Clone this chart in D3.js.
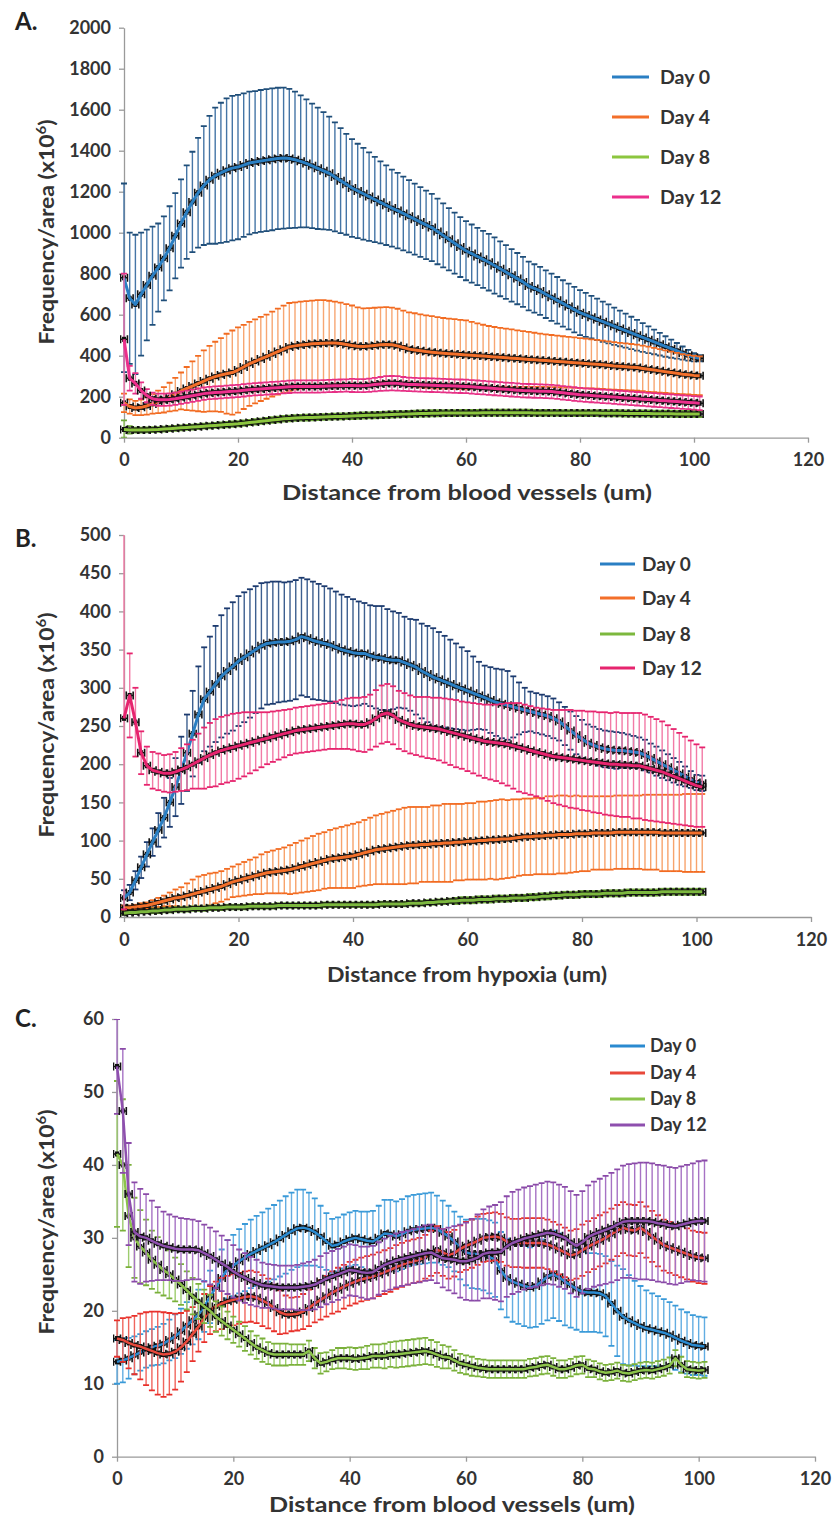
<!DOCTYPE html>
<html><head><meta charset="utf-8">
<script src="https://cdn.jsdelivr.net/npm/d3@7"></script>
<style>
body{margin:0;background:#fff;}
svg{display:block;font-family:Lato,"Open Sans",sans-serif;}
.tick text{font-size:18px;font-weight:bold;fill:#333;}
</style></head>
<body><svg id="c" width="833" height="1526"></svg>
<script>
// ---------- shared x (distance, um) ----------
const X = [0,1,2,3,4,5,6,7,8,9,10,11,12,13,14,15,16,17,18,19,20,21,22,23,24,25,26,27,28,29,30,31,32,33,34,35,36,37,38,39,40,41,42,43,44,45,46,47,48,49,50,51,52,53,54,55,56,57,58,59,60,61,62,63,64,65,66,67,68,69,70,71,72,73,74,75,76,77,78,79,80,81,82,83,84,85,86,87,88,89,90,91,92,93,94,95,96,97,98,99,100,101];
const xTicks = [0,20,40,60,80,100,120];
const seriesNames = ["Day 0","Day 4","Day 8","Day 12"];

// ---------- Panel A ----------
const A_D0 = [780,680,650,700,745,790,830,875,924,985, 1045,1100,1150,1195,1230,1258,1278,1292,1305,1315, 1320,1330,1340,1345,1350,1354,1358,1362,1364,1362, 1356,1348,1338,1326,1314,1302,1290,1272,1254,1236, 1218,1204,1190,1176,1162,1148,1134,1120,1108,1094, 1080,1066,1052,1038,1025,1006,987,968,949,930, 912,898,884,870,856,840,824,808,792,776, 760,740,728,716,700,685,670,655,640,625, 610,599,588,577,566,555,544,533,522,511, 500,489,478,467,456,445,434,424,413,402, 392,388];
const A_D0_E = [460,320,340,300,270,240,215,205,205,208, 215,228,245,268,290,312,332,342,350,352, 352,350,348,346,346,346,346,345,344,340, 332,322,312,304,296,286,276,266,256,246, 238,230,224,216,208,200,194,188,184,180, 176,173,170,167,164,160,156,152,149,146, 144,142,140,139,138,137,134,131,128,125, 122,119,118,117,116,115,114,113,112,111, 110,107,104,101,98,95,91,87,83,79, 75,70,65,60,55,50,44,38,32,26, 20,15];
const A_D4 = [170,152,145,148,155,165,175,185,198,212, 228,240,252,264,276,288,298,306,312,318, 330,345,360,372,384,395,408,420,432,443, 448,452,455,458,460,461,462,462,460,455, 450,446,445,447,450,453,455,453,448,440, 432,428,424,420,417,414,412,410,408,406, 404,402,400,398,396,394,392,390,388,386, 384,382,380,378,376,374,372,370,368,366, 364,362,360,358,356,353,350,348,346,344, 342,338,334,330,326,322,318,314,310,307, 304,302];
const A_D4_E = [45,35,35,38,42,48,55,62,70,80, 90,105,120,135,150,160,170,180,195,205, 208,205,205,205,205,205,207,210,212,214, 212,212,211,211,211,210,206,202,199,197, 195,190,186,185,184,183,182,182,181,180, 179,179,178,177,176,174,172,171,170,169, 168,163,158,153,149,146,144,142,140,138, 136,134,132,130,128,127,126,125,124,123, 122,121,120,119,118,117,116,115,114,113, 112,111,110,108,106,104,102,100,98,96, 95,95];
const A_D8 = [40,38,37,37,38,39,40,42,44,46, 48,50,52,54,56,58,60,62,64,66, 68,71,74,77,80,83,86,89,92,94, 96,97,98,99,100,101,102,103,104,105, 106,107,108,109,110,111,112,113,114,115, 116,117,118,118,119,119,120,120,120,121, 121,121,121,122,122,122,122,122,122,122, 122,122,121,121,121,121,121,120,120,120, 120,120,120,120,119,119,119,119,118,118, 118,118,118,117,117,117,117,116,116,116, 116,116];
const A_D8_E = [45,18,12,12,12,12,12,12,12,12, 12,12,12,12,12,12,12,13,13,13, 13,13,13,13,13,13,14,14,14,14, 14,14,14,14,14,14,14,14,14,14, 15,15,15,15,15,15,15,15,15,15, 15,15,15,15,15,15,15,15,15,15, 15,15,15,15,15,15,15,15,15,15, 15,15,15,15,15,15,15,15,15,15, 15,15,15,15,15,15,15,15,15,15, 15,15,15,15,15,15,15,15,15,15, 15,15];
const A_D12 = [480,290,265,230,205,190,185,185,186,190, 195,200,205,210,215,218,220,222,224,226, 228,231,234,236,238,240,242,244,246,248, 250,250,250,250,250,251,252,253,254,255, 255,254,254,256,259,262,265,266,265,262, 260,259,258,257,256,255,254,253,252,251, 250,248,246,244,242,240,238,236,234,232, 230,229,228,227,226,225,222,219,216,213, 210,208,206,204,202,200,198,196,194,192, 190,188,186,184,182,180,178,176,174,172, 170,168];
const A_D12_E = [320,60,50,40,32,30,30,30,30,30, 30,30,30,30,30,30,30,30,30,30, 30,30,30,30,30,30,30,30,30,30, 30,30,30,30,30,30,30,30,30,30, 32,32,32,32,33,34,35,35,35,34, 33,33,33,33,33,33,33,33,33,33, 33,33,33,33,33,33,33,33,33,33, 33,33,33,33,33,33,33,33,33,33, 33,33,33,33,33,33,33,33,33,33, 33,33,33,33,33,33,33,33,33,33, 33,33];
const A_yTicks = [0,200,400,600,800,1000,1200,1400,1600,1800,2000];

// ---------- Panel B ----------
const B_D0 = [25,32,48,65,82,98,114,130,150,170, 192,215,240,265,285,295,305,315,322,328, 335,340,345,350,355,358,359,360,360,361, 363,367,365,362,360,358,356,353,350,348, 346,345,345,342,340,339,337,336,336,333, 330,327,322,318,314,311,308,305,302,299, 296,293,290,287,284,281,279,277,275,273, 271,269,267,265,263,260,256,250,244,238, 233,228,225,222,220,219,218,218,217,216, 215,212,208,204,200,196,192,188,184,180, 176,175];
const B_D0_E = [10,10,12,14,16,18,22,26,32,38, 44,50,56,63,68,72,76,80,82,84, 85,85,84,83,82,80,80,79,78,78, 78,77,77,77,76,75,74,73,72,71, 70,68,66,66,67,68,66,64,62,60, 60,62,62,63,64,62,60,58,56,54, 52,48,44,42,43,44,45,45,40,34, 29,26,26,26,26,26,25,25,25,25, 25,24,24,24,24,24,24,23,22,21, 20,20,19,19,18,17,16,15,13,11, 10,10];
const B_D4 = [12,12,13,14,15,17,19,21,23,25, 26,28,30,32,34,36,38,40,43,46, 48,50,52,54,56,58,59,60,61,62, 64,66,68,70,72,74,76,77,78,79, 80,82,84,86,88,89,90,91,92,93, 94,94,95,95,96,96,97,97,98,98, 99,99,100,100,101,101,102,102,103,104, 105,105,106,106,107,107,108,108,108,109, 109,109,110,110,110,110,111,111,111,111, 111,111,111,111,110,110,110,110,110,110, 110,110];
const B_D4_E = [3,3,3,4,4,5,6,7,9,11, 13,16,19,21,21,21,20,20,20,20, 21,22,23,24,26,27,28,29,30,32, 33,34,35,36,37,37,38,39,40,41, 42,42,43,44,45,46,47,48,49,50, 50,50,49,49,50,50,51,51,50,50, 50,50,51,51,51,52,52,51,51,50, 50,50,50,50,51,51,51,51,50,50, 49,49,48,48,48,48,48,48,48,48, 48,49,49,49,50,50,50,50,51,51, 51,51];
const B_D8 = [5,6,6,7,7,8,8,9,9,10, 10,10,11,11,11,12,12,12,13,13, 13,13,14,14,14,14,14,15,15,15, 15,15,15,15,15,16,16,16,16,16, 16,16,16,16,16,17,17,17,17,17, 18,18,18,19,19,20,20,21,21,22, 22,22,23,23,23,24,24,24,25,25, 25,26,26,27,27,28,28,29,29,29, 30,30,30,30,31,31,31,31,32,32, 32,32,32,32,33,33,33,33,33,33, 33,33];
const B_D8_E = [2,2,2,2,2,3,3,3,3,3, 3,3,3,3,3,3,3,3,3,3, 3,3,3,3,3,3,3,3,3,3, 3,3,3,3,3,3,3,3,3,3, 3,3,3,3,3,3,3,3,3,3, 3,3,3,3,3,3,3,3,4,4, 4,4,4,4,4,4,4,4,4,4, 4,4,4,4,4,4,4,4,4,4, 4,4,4,4,4,4,4,4,4,4, 4,4,4,4,4,4,4,4,4,4, 4,4];
const B_D12 = [260,290,255,215,198,192,190,188,188,190, 193,196,200,204,208,212,215,218,220,222, 224,226,228,230,232,234,236,238,240,242, 244,245,246,247,248,249,250,251,252,253, 253,252,252,255,260,265,267,264,258,255, 252,250,249,248,247,246,244,242,240,238, 236,234,232,230,229,228,227,226,224,222, 220,218,216,214,212,210,209,208,207,206, 205,204,203,202,201,200,200,199,199,198, 198,196,194,192,190,187,184,181,178,175, 172,170];
const B_D12_E = [250,55,45,28,25,24,24,24,25,26, 28,30,32,36,40,42,44,44,44,44, 43,42,40,38,36,34,33,32,31,30, 30,30,30,30,30,30,30,31,32,33, 34,35,36,36,37,38,38,38,38,38, 38,38,39,40,40,41,42,43,44,44, 45,46,47,48,49,50,52,54,56,58, 58,58,58,59,60,61,62,63,64,64, 65,65,66,66,67,67,68,68,68,69, 69,69,68,67,66,64,62,60,58,56, 54,52];
const B_yTicks = [0,50,100,150,200,250,300,350,400,450,500];

// ---------- Panel C ----------
const C_D0 = [13,13.2,13.5,13.9,14.3,14.7,15,15.2,15.5,16, 16.5,17.2,18,18.7,19.5,20.6,21.9,23.2,24.5,25.7, 26.2,26.8,27.3,27.8,28.2,28.6,29,29.4,29.9,30.4, 30.9,31.3,31.4,31.2,30.8,30.2,29.5,28.9,29.1,29.5, 29.8,30,29.8,29.6,29.5,30,30.6,30.5,30.2,30.5, 30.9,31.1,31.2,31.3,31.4,31.2,30.7,30.2,29.5,28.6, 28,27.8,27.8,27.7,27.4,27,25.5,24.5,24,23.7, 23.4,23.2,23.4,24,24.7,25,24.6,24,23.5,23, 22.6,22.5,22.5,22.4,22,21,20,19.2,18.7,18.3, 17.9,17.6,17.4,17.2,17,16.7,16.3,15.9,15.6,15.3, 15.2,15.1];
const C_D0_E = [3,3,2.8,2.6,2.5,2.5,2.5,2.6,2.7,2.8, 3,3.1,3.2,3.3,3.4,3.5,3.6,3.8,3.9,4, 4.2,4.4,4.6,4.7,4.8,4.9,5,5.1,5.2,5.3, 5.3,5.3,5.2,5,4.6,4.2,3.9,3.7,3.7,3.7, 3.7,3.7,3.8,4,4.2,4.4,4.6,4.7,4.8,4.8, 4.8,4.8,4.8,4.8,4.8,4.6,4.4,4.2,4.1,4.3, 4.5,4.7,4.8,4.9,5,5.1,5.3,5.4,5.5,5.5, 5.5,5.5,5.6,5.8,6,6,6,6,5.8,5.6, 5.5,5.4,5.4,5.4,5.5,5.8,6.2,6.5,6.2,5.8, 5.5,5.2,5,4.8,4.6,4.5,4.4,4.3,4.2,4.1, 4,4];
const C_D4 = [16.2,16,15.6,15.3,15.1,14.8,14.5,14.2,14,14.1, 14.4,15,15.8,16.8,17.8,19,20.1,20.6,21,21.3, 21.5,21.7,21.9,22,21.8,21.4,21,20.4,19.8,19.5, 19.5,19.6,19.9,20.4,21,21.5,22,22.5,22.9,23.3, 23.7,24,24.3,24.5,24.7,25,25.3,25.6,26,26.3, 26.6,26.8,27,27.4,27.9,28.4,28,27.6,27.9,28.5, 28.9,29.2,29.6,30,30.1,30.2,30,29.5,29.3,29.3, 29.3,29.3,29.3,29.3,29.1,28.8,28.4,28,27.6,27.8, 28.3,28.8,29.2,29.6,30,30.5,31,31.4,31.1,31, 31.4,30.8,30.2,29.6,29,28.7,28.4,28.1,27.8,27.5, 27.3,27.2];
const C_D4_E = [2.5,3,3.5,4,4.5,5,5.4,5.7,5.8,5.6, 5.2,4.7,4.2,3.7,3.4,3.3,3.3,3.4,3.5,3.5, 3.5,3.5,3.5,3.5,3.5,3.5,3.4,3.2,3,2.6, 2.3,2.3,2.4,2.5,2.6,2.7,2.8,2.9,3,3, 3,3,3,3,3,3,3,3,3,3, 3,3,3,3,3.1,3.2,3.2,3.2,3.2,3.2, 3.3,3.3,3.3,3.3,3.3,3.3,3.3,3.3,3.3,3.3, 3.4,3.4,3.4,3.4,3.4,3.4,3.4,3.4,3.4,3.4, 3.5,3.5,3.5,3.5,3.5,3.5,3.5,3.5,3.5,3.5, 3.5,3.5,3.5,3.5,3.5,3.5,3.5,3.5,3.5,3.5, 3.5,3.5];
const C_D8 = [41.5,40,33,30,28.8,28,27,26.3,25.6,25, 24.3,23.6,22.8,22,21.3,20.6,20,19.2,18.6,18, 17.4,16.8,16.2,15.6,15,14.6,14.2,14,14,14, 14,14,14,14.5,13.5,12.8,13,13.3,13.5,13.5, 13.5,13.4,13.5,13.6,13.8,13.8,13.8,14,14,14.1, 14.2,14.3,14.4,14.5,14.3,14,13.7,13.6,13.2,12.8, 12.6,12.4,12.2,12.1,12,12,12,12,12,12, 12,12.2,12.3,12.5,12.6,12.3,12,12,12.2,12.5, 12.6,12.1,12,11.7,11.5,11.6,11.8,11.5,11.4,11.6, 11.8,11.9,11.8,12,12.2,12.5,13.5,12.6,12,11.9, 11.8,11.9];
const C_D8_E = [10,9,7,5.5,5,4.5,4,3.8,3.5,3.3, 3,2.8,2.6,2.5,2.4,2.3,2.2,2.1,2,1.9, 1.8,1.7,1.7,1.6,1.6,1.6,1.5,1.5,1.5,1.5, 1.4,1.4,1.4,1.4,1.4,1.4,1.3,1.3,1.4,1.4, 1.5,1.5,1.5,1.6,1.6,1.6,1.7,1.7,1.8,1.8, 1.8,1.8,1.8,1.8,1.7,1.7,1.6,1.5,1.4,1.3, 1.3,1.3,1.2,1.2,1.2,1.2,1.2,1.2,1.2,1.2, 1.2,1.2,1.2,1.2,1.2,1.2,1.2,1.2,1.2,1.2, 1.2,1.2,1.1,1.1,1.1,1.1,1.1,1.1,1.1,1.1, 1.1,1.1,1.1,1.1,1.1,1.1,1.1,1.1,1.1,1.1, 1.1,1.1];
const C_D12 = [53.5,47.4,36,30.8,30.2,30,29.6,29.2,28.9,28.7, 28.5,28.4,28.4,28.4,28.3,27.9,27.5,27,26.5,26, 25.4,24.9,24.5,24.1,23.8,23.5,23.4,23.3,23.2,23.2, 23.2,23.2,23.3,23.4,23.6,24,24.4,24.7,25,25.3, 25.6,25.5,25.3,25.2,25.3,25.8,26.3,26.6,26.9,27.1, 27.3,27.5,27.7,27.9,28,27.6,27.2,27.1,27,26.8, 26.8,27,27.3,27.8,28,28,28.1,28.8,29.3,29.6, 29.9,30.1,30.3,30.5,30.7,30.6,30.3,30,29.4,28.9, 29.4,30.1,30.5,30.8,31.1,31.4,31.8,32.2,32.3,32.3, 32.3,32.3,32.2,32,31.9,31.7,31.6,31.8,32,32.2, 32.3,32.3];
const C_D12_E = [6.5,8.5,7,6.8,6.5,6,5.5,5,4.7,4.5, 4.4,4.3,4.2,4.1,4,3.9,3.9,3.9,3.8,3.7, 3.6,3.5,3.4,3.3,3.2,3.1,3,3,3,3, 3,3.1,3.2,3.3,3.4,3.5,3.5,3.5,3.5,3.5, 3.5,3.5,3.5,3.6,3.6,3.6,3.6,3.7,3.7,3.7, 3.7,3.7,3.8,3.8,3.8,3.8,4,4.3,4.6,5, 5.3,5.6,5.9,6.1,6.3,6.5,6.8,6.9,7,7, 7,7,7,7,7,7,7,7,7,7, 7,7.1,7.2,7.3,7.4,7.5,7.6,7.7,7.8,7.9, 8,8,8,8,8,8,8,8,8,8, 8.2,8.3];
const C_yTicks = [0,10,20,30,40,50,60];

// ---------- drawing ----------
const svg = d3.select("#c");
const FONT = 'Lato,"Open Sans",sans-serif';

function drawPanel(cfg, idx) {
  const x = d3.scaleLinear().domain([0,120]).range([cfg.x0, cfg.x1]);
  const y = d3.scaleLinear().domain([0, cfg.ymax]).range([cfg.yb, cfg.yt]);
  const g = svg.append("g");
  const clipId = "clip" + idx;
  svg.append("clipPath").attr("id", clipId).append("rect")
    .attr("x", cfg.x0 - 4).attr("y", cfg.yt).attr("width", cfg.x1 - cfg.x0 + 8).attr("height", cfg.yb - cfg.yt);

  // axes
  const ya = g.append("g").attr("transform", `translate(${cfg.x0},0)`)
    .call(d3.axisLeft(y).tickValues(cfg.yTicks).tickSize(5).tickSizeOuter(0).tickPadding(8).tickFormat(d3.format("d")));
  const xa = g.append("g").attr("transform", `translate(0,${cfg.yb})`)
    .call(d3.axisBottom(x).tickValues(xTicks).tickSize(5).tickSizeOuter(0).tickPadding(11).tickFormat(d3.format("d")));
  [ya, xa].forEach(a => { a.selectAll("path,line").attr("stroke", "#9a9a9a").attr("stroke-width", 1.3); a.selectAll("text").attr("font-family", FONT); });

  const plot = g.append("g").attr("clip-path", `url(#${clipId})`);
  cfg.series.forEach(s => {
    const pts = X.map((xv, i) => ({x: xv, m: s.mean[i], e: s.err[i]}));
    const sg = plot.append("g");
    // vertical error bars
    sg.selectAll("line.stem").data(pts).join("line")
      .attr("x1", d => x(d.x)).attr("x2", d => x(d.x))
      .attr("y1", d => y(Math.max(0, d.m - d.e))).attr("y2", d => y(d.m + d.e))
      .attr("stroke", s.stem).attr("stroke-width", 1.4);
    ["up","dn"].forEach(k => {
      sg.selectAll("line.cap" + k).data(pts).join("line")
        .attr("x1", d => x(d.x) - 3).attr("x2", d => x(d.x) + 3)
        .attr("y1", d => y(k === "up" ? d.m + d.e : Math.max(0, d.m - d.e)))
        .attr("y2", d => y(k === "up" ? d.m + d.e : Math.max(0, d.m - d.e)))
        .attr("stroke", s.cap).attr("stroke-width", 1.8);
    });
    // black markers with horizontal error bars
    const mk = sg.selectAll("g.mk").data(pts).join("g");
    mk.append("line").attr("x1", d => x(d.x - 0.6)).attr("x2", d => x(d.x + 0.6))
      .attr("y1", d => y(d.m)).attr("y2", d => y(d.m)).attr("stroke", "#111").attr("stroke-width", 1.5);
    mk.append("line").attr("x1", d => x(d.x - 0.6)).attr("x2", d => x(d.x - 0.6))
      .attr("y1", d => y(d.m) - 4).attr("y2", d => y(d.m) + 4).attr("stroke", "#111").attr("stroke-width", 1.6);
    mk.append("line").attr("x1", d => x(d.x + 0.6)).attr("x2", d => x(d.x + 0.6))
      .attr("y1", d => y(d.m) - 4).attr("y2", d => y(d.m) + 4).attr("stroke", "#111").attr("stroke-width", 1.6);
    mk.append("rect").attr("x", d => x(d.x) - 2).attr("y", d => y(d.m) - 2.5).attr("width", 4).attr("height", 5).attr("fill", "#111");
    // series line
    sg.append("path").datum(pts)
      .attr("d", d3.line().x(d => x(d.x)).y(d => y(d.m)))
      .attr("fill", "none").attr("stroke", s.line).attr("stroke-width", cfg.lw).attr("stroke-linejoin", "round");
  });

  // panel letter
  svg.append("text").attr("x", 15).attr("y", cfg.letterY).text(cfg.letter)
    .attr("font-family", FONT).attr("font-weight", "bold").attr("font-size", 24).attr("fill", "#222");
  // y label
  const yl = svg.append("text").attr("transform", `translate(${cfg.ylX},${cfg.ylY}) rotate(-90)`)
    .attr("text-anchor", "middle").attr("font-family", FONT).attr("font-weight", "bold").attr("font-size", 20).attr("fill", "#333")
    .attr("textLength", 225).attr("lengthAdjust", "spacingAndGlyphs");
  yl.append("tspan").text("Frequency/area (x10");
  yl.append("tspan").text("6").attr("font-size", 13).attr("dy", -8);
  yl.append("tspan").text(")").attr("dy", 8);
  // x label
  svg.append("text").attr("x", cfg.xlX).attr("y", cfg.xlY).attr("text-anchor", "middle")
    .attr("font-family", FONT).attr("font-weight", "bold").attr("font-size", 21).attr("fill", "#333").text(cfg.xlabel)
    .attr("textLength", cfg.xlLen).attr("lengthAdjust", "spacingAndGlyphs");
  // legend
  cfg.series.forEach((s, i) => {
    const ly = cfg.leg.ys[i];
    svg.append("line").attr("x1", cfg.leg.lx1).attr("x2", cfg.leg.lx2).attr("y1", ly).attr("y2", ly)
      .attr("stroke", s.line).attr("stroke-width", 3.2);
    svg.append("text").attr("x", cfg.leg.tx).attr("y", ly).attr("dy", "0.36em").text(seriesNames[i])
      .attr("font-family", FONT).attr("font-weight", "bold").attr("font-size", cfg.leg.fs).attr("fill", "#333");
  });
}

drawPanel({
  x0: 124, x1: 808, yb: 437.7, yt: 27.7, ymax: 2000, yTicks: A_yTicks, lw: 3,
  letter: "A.", letterY: 30, ylX: 54, ylY: 232, xlabel: "Distance from blood vessels (um)", xlX: 467, xlY: 500, xlLen: 370,
  leg: {lx1: 612, lx2: 649, tx: 660, fs: 19.5, ys: [77, 117, 157, 197]},
  series: [
    {mean: A_D0, err: A_D0_E, line: "#2a7fc3", stem: "#4575a6", cap: "#1f4e79"},
    {mean: A_D4, err: A_D4_E, line: "#f36f2a", stem: "#f7a672", cap: "#f26b21"},
    {mean: A_D8, err: A_D8_E, line: "#8cc63f", stem: "#93c760", cap: "#6fa83a"},
    {mean: A_D12, err: A_D12_E, line: "#ec2f8c", stem: "#f173ae", cap: "#e62f85"}
  ]
}, 0);

drawPanel({
  x0: 124, x1: 811, yb: 917, yt: 535, ymax: 500, yTicks: B_yTicks, lw: 3,
  letter: "B.", letterY: 547, ylX: 54, ylY: 725, xlabel: "Distance from hypoxia (um)", xlX: 467, xlY: 982, xlLen: 280,
  leg: {lx1: 600, lx2: 635, tx: 642, fs: 19, ys: [564, 598, 634, 668]},
  series: [
    {mean: B_D0, err: B_D0_E, line: "#2a7fc3", stem: "#3d5f8f", cap: "#1c3a6e"},
    {mean: B_D4, err: B_D4_E, line: "#f36f2a", stem: "#f7a36c", cap: "#f26b21"},
    {mean: B_D8, err: B_D8_E, line: "#7cb83e", stem: "#8fc45a", cap: "#6aa336"},
    {mean: B_D12, err: B_D12_E, line: "#e6246e", stem: "#f27aa6", cap: "#e6246e"}
  ]
}, 1);

drawPanel({
  x0: 117, x1: 815, yb: 1456.7, yt: 1019, ymax: 60, yTicks: C_yTicks, lw: 2.5,
  letter: "C.", letterY: 1027, ylX: 54, ylY: 1222, xlabel: "Distance from blood vessels (um)", xlX: 452, xlY: 1512, xlLen: 366,
  leg: {lx1: 610, lx2: 645, tx: 650, fs: 18, ys: [1046, 1073, 1099, 1125]},
  series: [
    {mean: C_D0, err: C_D0_E, line: "#2a8ad0", stem: "#62ade2", cap: "#3a9ad8"},
    {mean: C_D4, err: C_D4_E, line: "#e8483a", stem: "#f0655d", cap: "#e8302a"},
    {mean: C_D8, err: C_D8_E, line: "#8bc34a", stem: "#9dcc6e", cap: "#7ab03a"},
    {mean: C_D12, err: C_D12_E, line: "#8e4fae", stem: "#a672c4", cap: "#8a4aa8"}
  ]
}, 2);
</script>
</body></html>
